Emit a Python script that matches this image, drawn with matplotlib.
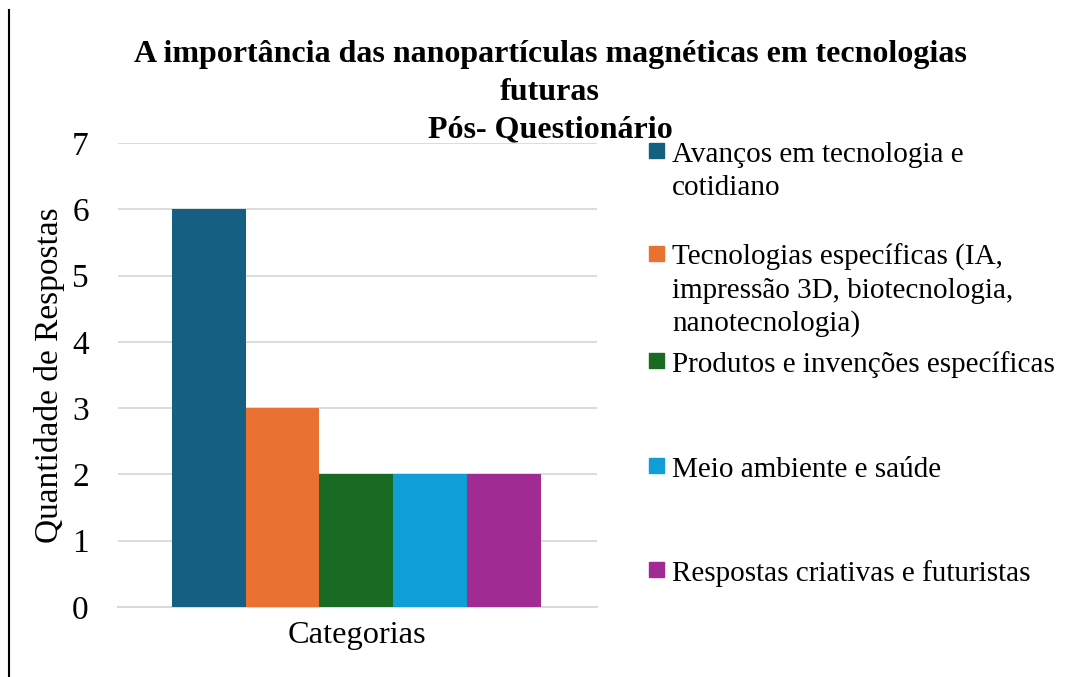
import matplotlib
matplotlib.use("Agg")
import matplotlib.pyplot as plt
from matplotlib.patches import Rectangle
from matplotlib.lines import Line2D

categories = ["Avanços em tecnologia e\ncotidiano",
              "Tecnologias específicas (IA,\nimpressão 3D, biotecnologia,\nnanotecnologia)",
              "Produtos e invenções específicas",
              "Meio ambiente e saúde",
              "Respostas criativas e futuristas"]
values = [6, 3, 2, 2, 2]
colors = ["#156082", "#E97132", "#196B24", "#0F9ED5", "#A02B93"]
yticks = [0, 1, 2, 3, 4, 5, 6, 7]
title_lines = ["A importância das nanopartículas magnéticas em tecnologias",
               "futuras",
               "Pós- Questionário"]

plt.rcParams['font.family'] = ['Liberation Serif', 'DejaVu Serif']

W, H = 1073, 677
fig = plt.figure(figsize=(W / 100, H / 100), dpi=100)
ax = fig.add_axes([118 / W, 1 - 607 / H, (597 - 118) / W, (607 - 143) / H])


def fx(px):
    return px / W


def fy(py):
    return 1 - py / H


for i, (v, c) in enumerate(zip(values, colors)):
    ax.bar(i, v, width=1.0, color=c, zorder=3)

ax.set_xlim(-1.23, 5.26)
ax.set_ylim(0, 7)
ax.set_yticks(yticks)
ax.set_yticklabels([str(t) for t in yticks], fontsize=24)
ax.set_xticks([])
ax.tick_params(axis='both', length=0)
ax.tick_params(axis='y', pad=21)
ax.grid(axis='y', color='#d9d9d9', linewidth=1.3, zorder=0)
for s in ['top', 'right', 'left']:
    ax.spines[s].set_visible(False)
ax.spines['bottom'].set_color('#d9d9d9')
ax.spines['bottom'].set_linewidth(1.5)

# x category label
fig.text(fx(357), fy(643), "Categorias", ha='center', va='baseline', fontsize=23.3)

# y axis title
fig.text(fx(50), fy(375), "Quantidade de Respostas", rotation=90, ha='center',
         va='center', fontsize=24)

# title
title_baselines = [62, 99.5, 137]
for line, b in zip(title_lines, title_baselines):
    fig.text(fx(550), fy(b), line, ha='center', va='baseline', fontsize=23,
             fontweight='bold')

# legend
baselines = [162, 265, 372, 477, 581]
line_step = 33
for lab, c, b in zip(categories, colors, baselines):
    fig.add_artist(Rectangle((fx(649), fy(b - 4)), 15 / W, 15 / H,
                             transform=fig.transFigure, color=c))
    for k, part in enumerate(lab.split("\n")):
        fig.text(fx(672), fy(b + k * line_step), part, ha='left', va='baseline',
                 fontsize=21)

fig.add_artist(Line2D([fx(9), fx(9)], [0, fy(10)], transform=fig.transFigure,
                      color='black', linewidth=1.5))

fig.savefig("out.png", dpi=100)
